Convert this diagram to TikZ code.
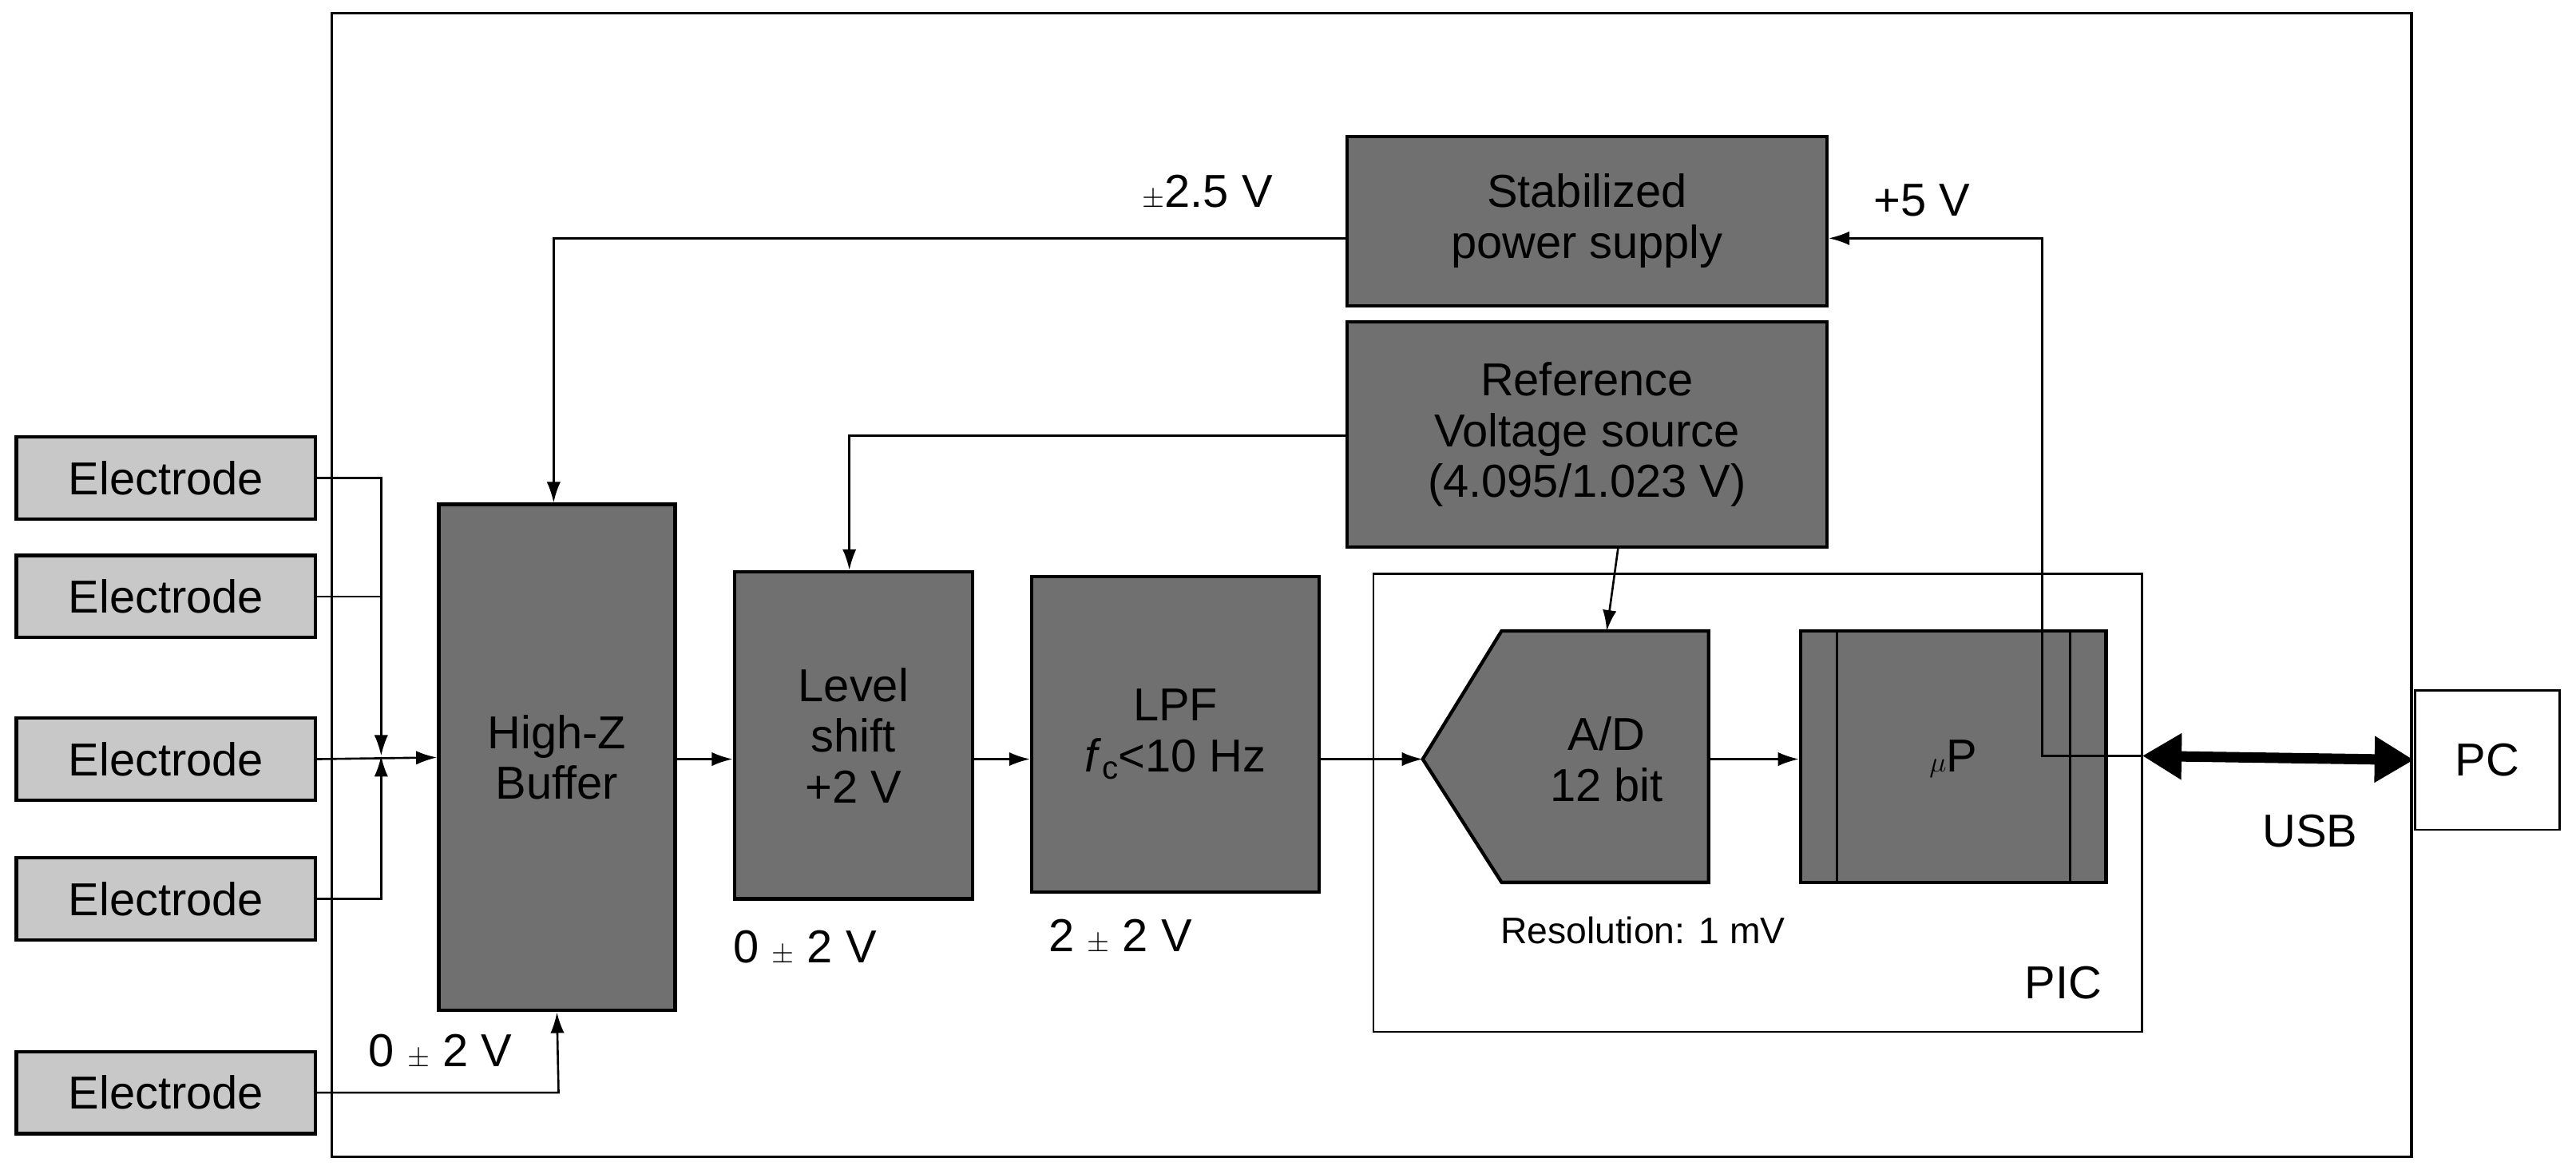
\documentclass[tikz,border=0pt]{standalone}
\usepackage{fontspec}
\setmainfont{Liberation Sans}
\usetikzlibrary{arrows.meta}
\definecolor{dk}{HTML}{707070}
\definecolor{lt}{HTML}{C8C8C8}
\begin{document}
\begin{tikzpicture}[x=0.05cm,y=-0.05cm,
  every node/.style={font=\fontsize{40}{44}\selectfont},
  blk/.style={draw,line width=3pt,fill=dk,align=center,inner sep=0pt},
  el/.style={draw,line width=3pt,fill=lt,minimum width=9.1cm,minimum height=2.5cm,inner sep=0pt},
  wr/.style={line width=1.8pt},
  ar/.style={wr,-{Latex[length=18pt,width=12pt]}},
  lab/.style={inner sep=0pt}]
\useasboundingbox (0,0) rectangle (1568,712);
\draw[line width=2.5pt] (202,8) rectangle (1468,704);
% electrodes
\node[el] (e1) at (101,291) {Electrode};
\node[el] (e2) at (101,363) {Electrode};
\node[el] (e3) at (101,462) {Electrode};
\node[el] (e4) at (101,547) {Electrode};
\node[el] (e5) at (101,665) {Electrode};
% blocks
\node[blk,minimum width=7.2cm,minimum height=15.4cm] (buf) at (339,461) {High-Z\\Buffer};
\node[blk,minimum width=7.25cm,minimum height=9.95cm] (lvl) at (519.5,447.5) {Level\\shift\\+2 V};
\node[blk,minimum width=8.75cm,minimum height=9.6cm] (lpf) at (715.5,447) {LPF\\\textit{f}\raisebox{-0.3ex}{\fontsize{28}{30}\selectfont c}<10 Hz};
\node[draw,line width=2pt,fill=white,minimum width=23.4cm,minimum height=13.95cm] (pic) at (1070,488.5) {};
\node[lab] at (1256,598) {PIC};
\node[blk,minimum width=14.6cm,minimum height=5.15cm] (ps) at (966,134.5) {Stabilized\\power supply};
\node[blk,minimum width=14.6cm,minimum height=6.85cm] (ref) at (966,264.5) {Reference\\Voltage source\\(4.095/1.023 V)};
\draw[line width=3pt,fill=dk] (866,462) -- (914,384) -- (1040,384) -- (1040,537) -- (914,537) -- cycle;
\node[lab,align=center] (ad) at (978,462) {A/D\\12 bit};
\coordinate (adtip) at (866,462);
\coordinate (adtop) at (978,384);
\coordinate (adright) at (1040,462);
\node[blk,minimum width=9.3cm,minimum height=7.65cm] (up) at (1189,460.5) {};
\draw[line width=2pt] (1118,384) -- (1118,537) (1260,384) -- (1260,537);
\node[lab] at (1189,462) {$\mu$P};
\node[draw,line width=2pt,fill=white,minimum width=4.4cm,minimum height=4.25cm] (pc) at (1514,462.5) {PC};
% labels
\node[lab] at (735,117) {$\pm$2.5 V};
\node[lab] at (1170,122) {+5 V};
\node[lab] at (490,577) {0 $\pm$ 2 V};
\node[lab] at (682,570) {2 $\pm$ 2 V};
\node[lab] at (268,640) {0 $\pm$ 2 V};
\node[lab,font=\fontsize{32}{36}\selectfont] at (1000,566) {Resolution: 1 mV};
\node[lab] at (1406,506) {USB};
% wiring
\coordinate (j) at (232,460);
\draw[ar] (e1.east) -- (232,291) -- (j);
\draw[wr] (e2.east) -- (232,363);
\draw[ar] (e4.east) -- (232,547) -- (j);
\draw[ar] (e3.east) -- (buf.west);
\draw[ar] (e5.east) -- (340,665) -- (buf.south);
\draw[ar] (ps.west |- 0,145) -- (337,145) -- (buf.north -| 337,0);
\draw[ar] (ref.west |- 0,265) -- (517,265) -- (lvl.north -| 517,0);
\draw[ar] (985,333) -- (adtop);
\draw[ar] (buf.east |- 0,462) -- (lvl.west |- 0,462);
\draw[ar] (lvl.east |- 0,462) -- (lpf.west |- 0,462);
\draw[ar] (lpf.east |- 0,462) -- (adtip);
\draw[ar] (adright) -- (up.west |- 0,462);
\coordinate (pj) at (1243,460);
\draw[ar] (1304,460) -- (pj) -- (1243,145) -- (ps.east |- 0,145);
\draw[line width=9pt,{Triangle[length=34pt,width=38pt]}-{Triangle[length=34pt,width=38pt]}] (1304,460) -- (pc.west);
\end{tikzpicture}
\end{document}
